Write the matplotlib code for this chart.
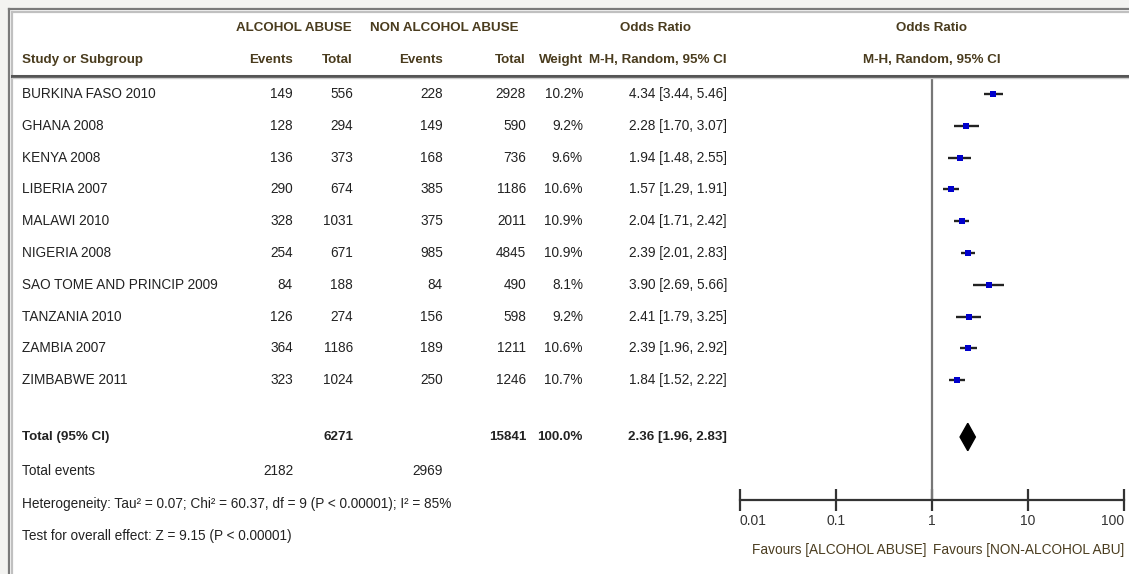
import matplotlib
matplotlib.use("Agg")
import matplotlib.pyplot as plt
from matplotlib.lines import Line2D
from matplotlib.transforms import blended_transform_factory

plt.rcParams['font.family'] = ['Liberation Sans', 'DejaVu Sans']

# datos
studies = ['BURKINA FASO 2010', 'GHANA 2008', 'KENYA 2008', 'LIBERIA 2007', 'MALAWI 2010',
           'NIGERIA 2008', 'SAO TOME AND PRINCIP 2009', 'TANZANIA 2010', 'ZAMBIA 2007', 'ZIMBABWE 2011']
ev_alc = [149, 128, 136, 290, 328, 254, 84, 126, 364, 323]
tot_alc = [556, 294, 373, 674, 1031, 671, 188, 274, 1186, 1024]
ev_non = [228, 149, 168, 385, 375, 985, 84, 156, 189, 250]
tot_non = [2928, 590, 736, 1186, 2011, 4845, 490, 598, 1211, 1246]
weight = [10.2, 9.2, 9.6, 10.6, 10.9, 10.9, 8.1, 9.2, 10.6, 10.7]
odds = [4.34, 2.28, 1.94, 1.57, 2.04, 2.39, 3.90, 2.41, 2.39, 1.84]
ci_lo = [3.44, 1.70, 1.48, 1.29, 1.71, 2.01, 2.69, 1.79, 1.96, 1.52]
ci_hi = [5.46, 3.07, 2.55, 1.91, 2.42, 2.83, 5.66, 3.25, 2.92, 2.22]
total_or, total_lo, total_hi = 2.36, 1.96, 2.83
total_alc, total_non = 6271, 15841
events_alc, events_non = 2182, 2969
xticks = [0.01, 0.1, 1, 10, 100]
xtick_labels = ['0.01', '0.1', '1', '10', '100']

W, H = 1129, 574
fig = plt.figure(figsize=(W / 100, H / 100), dpi=100, facecolor='#f3f3f1')

# fondo blanco con borde doble
fig.patches.append(plt.Rectangle((8 / W, 0), 1, 1 - 8 / H, transform=fig.transFigure,
                                 facecolor='white', edgecolor='none', zorder=-10))
for x0, c in [(8.5, '#7a7a7a'), (11.5, '#c0c0c0')]:
    fig.add_artist(Line2D([x0 / W, x0 / W], [0, 1 - x0 / H], color=c, lw=1.6, transform=fig.transFigure))
    fig.add_artist(Line2D([x0 / W, 1], [1 - x0 / H, 1 - x0 / H], color=c, lw=1.6, transform=fig.transFigure))

# linea bajo el encabezado
fig.add_artist(Line2D([12 / W, 1], [1 - 76 / H, 1 - 76 / H], color='#555555', lw=2.2, transform=fig.transFigure))
fig.add_artist(Line2D([12 / W, 1], [1 - 78.5 / H, 1 - 78.5 / H], color='#cccccc', lw=1, transform=fig.transFigure))

# filas: pixel y = y0 + pitch * fila
y0, pitch = 94, 31.8
top_row = (76 - y0) / pitch
bot_row = (500 - y0) / pitch
ax = fig.add_axes([740 / W, (H - 500) / H, (1124 - 740) / W, (500 - 76) / H])
ax.set_xscale('log')
ax.set_xlim(0.01, 100)
ax.set_ylim(bot_row, top_row)
ax.patch.set_alpha(0)
for s in ['top', 'left', 'right']:
    ax.spines[s].set_visible(False)
ax.spines['bottom'].set_color('#333333')
ax.spines['bottom'].set_linewidth(1.6)
ax.set_yticks([])
ax.set_xticks(xticks)
ax.set_xticklabels(xtick_labels, fontsize=10, color='#333333')
ax.xaxis.set_minor_locator(plt.NullLocator())
ax.tick_params(axis='x', direction='inout', length=16, width=1.6, color='#333333', pad=2)
labs = ax.get_xticklabels()
labs[0].set_ha('left')
labs[-1].set_ha('right')

ax.axvline(1, color='#777777', lw=1.6)

rows = list(range(len(studies)))
for i in rows:
    ax.plot([ci_lo[i], ci_hi[i]], [i, i], color='#222222', lw=1.7, solid_capstyle='butt')
    ax.plot(odds[i], i, marker='s', color='#0000cc', markersize=2 + weight[i] * 0.25, markeredgewidth=0)

r_tot = (437 - y0) / pitch
ax.fill([total_lo, total_or, total_hi, total_or], [r_tot, r_tot - 0.43, r_tot, r_tot + 0.43], color='black')

# tabla de texto
tr = blended_transform_factory(fig.transFigure, ax.transData)
hdr = dict(fontsize=9.6, color='#4a3c1e', fontweight='bold', va='center')
body = dict(fontsize=9.8, color='#222222', va='center')
r_h1 = (28 - y0) / pitch
r_h2 = (60 - y0) / pitch

def fx(px):
    return px / W

ax.text(fx(294), r_h1, 'ALCOHOL ABUSE', transform=tr, ha='center', **hdr)
ax.text(fx(444), r_h1, 'NON ALCOHOL ABUSE', transform=tr, ha='center', **hdr)
ax.text(fx(655), r_h1, 'Odds Ratio', transform=tr, ha='center', **hdr)
ax.text(fx(932), r_h1, 'Odds Ratio', transform=tr, ha='center', **hdr)
ax.text(fx(22), r_h2, 'Study or Subgroup', transform=tr, ha='left', **hdr)
ax.text(fx(293), r_h2, 'Events', transform=tr, ha='right', **hdr)
ax.text(fx(353), r_h2, 'Total', transform=tr, ha='right', **hdr)
ax.text(fx(443), r_h2, 'Events', transform=tr, ha='right', **hdr)
ax.text(fx(526), r_h2, 'Total', transform=tr, ha='right', **hdr)
ax.text(fx(583), r_h2, 'Weight', transform=tr, ha='right', **hdr)
ax.text(fx(727), r_h2, 'M-H, Random, 95% CI', transform=tr, ha='right', **hdr)
ax.text(fx(932), r_h2, 'M-H, Random, 95% CI', transform=tr, ha='center', **hdr)

for i in rows:
    ax.text(fx(22), i, studies[i], transform=tr, ha='left', **body)
    ax.text(fx(293), i, str(ev_alc[i]), transform=tr, ha='right', **body)
    ax.text(fx(353), i, str(tot_alc[i]), transform=tr, ha='right', **body)
    ax.text(fx(443), i, str(ev_non[i]), transform=tr, ha='right', **body)
    ax.text(fx(526), i, str(tot_non[i]), transform=tr, ha='right', **body)
    ax.text(fx(583), i, f'{weight[i]:.1f}%', transform=tr, ha='right', **body)
    ax.text(fx(727), i, f'{odds[i]:.2f} [{ci_lo[i]:.2f}, {ci_hi[i]:.2f}]', transform=tr, ha='right', **body)

bold = dict(body, fontweight='bold', fontsize=9.6)
ax.text(fx(22), r_tot, 'Total (95% CI)', transform=tr, ha='left', **bold)
ax.text(fx(353), r_tot, str(total_alc), transform=tr, ha='right', **bold)
ax.text(fx(526), r_tot, str(total_non), transform=tr, ha='right', **bold)
ax.text(fx(583), r_tot, '100.0%', transform=tr, ha='right', **bold)
ax.text(fx(727), r_tot, f'{total_or:.2f} [{total_lo:.2f}, {total_hi:.2f}]', transform=tr, ha='right', **bold)

r_ev = (471 - y0) / pitch
ax.text(fx(22), r_ev, 'Total events', transform=tr, ha='left', **body)
ax.text(fx(293), r_ev, str(events_alc), transform=tr, ha='right', **body)
ax.text(fx(443), r_ev, str(events_non), transform=tr, ha='right', **body)
ax.text(fx(22), (504 - y0) / pitch,
        'Heterogeneity: Tau\u00b2 = 0.07; Chi\u00b2 = 60.37, df = 9 (P < 0.00001); I\u00b2 = 85%',
        transform=tr, ha='left', **body)
ax.text(fx(22), (536 - y0) / pitch, 'Test for overall effect: Z = 9.15 (P < 0.00001)',
        transform=tr, ha='left', **body)

fav = dict(fontsize=9.8, color='#4a3c1e', va='center')
ax.text(fx(926), (550 - y0) / pitch, 'Favours [ALCOHOL ABUSE]', transform=tr, ha='right', **fav)
ax.text(fx(933), (550 - y0) / pitch, 'Favours [NON-ALCOHOL ABU]', transform=tr, ha='left', **fav)

fig.savefig('out.png', dpi=100, facecolor=fig.get_facecolor())
